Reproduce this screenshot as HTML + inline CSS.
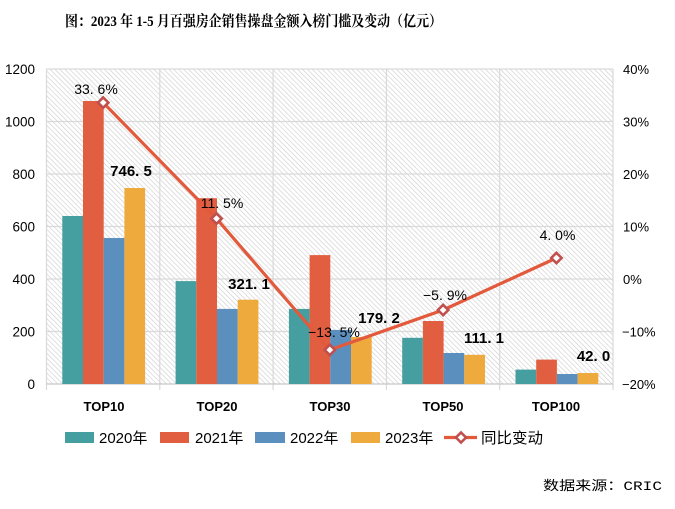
<!DOCTYPE html>
<html><head><meta charset="utf-8">
<style>
html,body{margin:0;padding:0;background:#fff;}
svg{display:block;}
text{font-family:"Liberation Sans","Noto Sans CJK SC",sans-serif;fill:#000;}
</style></head>
<body>
<svg width="675" height="509" viewBox="0 0 675 509" xmlns="http://www.w3.org/2000/svg">
<defs>
<pattern id="hatch" width="3.5" height="3.5" patternUnits="userSpaceOnUse" patternTransform="rotate(-45)">
<rect width="3.5" height="3.5" fill="#ffffff"/>
<line x1="0" y1="0" x2="0" y2="3.5" stroke="#cccccc" stroke-width="1.2"/>
</pattern>
</defs>
<rect width="675" height="509" fill="#fff"/>
<text x="65" y="26" font-size="15" font-weight="bold" textLength="377" lengthAdjust="spacingAndGlyphs" style="font-family:'Liberation Serif','Noto Serif CJK SC',serif">图：2023 年 1-5 月百强房企销售操盘金额入榜门槛及变动（亿元）</text>

<rect x="46.5" y="69" width="566.5" height="315" fill="url(#hatch)"/>
<g stroke="#d9d9d9" stroke-width="1.2">
<line x1="46.5" y1="69" x2="613" y2="69"/>
<line x1="46.5" y1="121.5" x2="613" y2="121.5"/>
<line x1="46.5" y1="174" x2="613" y2="174"/>
<line x1="46.5" y1="226.5" x2="613" y2="226.5"/>
<line x1="46.5" y1="279" x2="613" y2="279"/>
<line x1="46.5" y1="331.5" x2="613" y2="331.5"/>
<line x1="46.5" y1="69" x2="46.5" y2="390"/>
<line x1="159.8" y1="69" x2="159.8" y2="390"/>
<line x1="273.1" y1="69" x2="273.1" y2="390"/>
<line x1="386.4" y1="69" x2="386.4" y2="390"/>
<line x1="499.7" y1="69" x2="499.7" y2="390"/>
<line x1="613" y1="69" x2="613" y2="390"/>
</g>
<line x1="46.5" y1="384" x2="613" y2="384" stroke="#c8c8c8" stroke-width="1.3"/>

<!-- bars -->
<g>
<rect x="62.3" y="216" width="20.7" height="168" fill="#459FA1"/>
<rect x="83" y="101" width="20.7" height="283" fill="#E25E40"/>
<rect x="103.7" y="238" width="20.7" height="146" fill="#5B8FBD"/>
<rect x="124.4" y="188" width="20.7" height="196" fill="#EEAA3D"/>

<rect x="175.6" y="281.1" width="20.7" height="102.9" fill="#459FA1"/>
<rect x="196.3" y="198.2" width="20.7" height="185.8" fill="#E25E40"/>
<rect x="217" y="308.9" width="20.7" height="75.1" fill="#5B8FBD"/>
<rect x="237.7" y="299.7" width="20.7" height="84.3" fill="#EEAA3D"/>

<rect x="288.9" y="308.9" width="20.7" height="75.1" fill="#459FA1"/>
<rect x="309.6" y="255.1" width="20.7" height="128.9" fill="#E25E40"/>
<rect x="330.3" y="329.9" width="20.7" height="54.1" fill="#5B8FBD"/>
<rect x="351" y="337" width="20.7" height="47" fill="#EEAA3D"/>

<rect x="402.2" y="337.8" width="20.7" height="46.2" fill="#459FA1"/>
<rect x="422.9" y="321" width="20.7" height="63" fill="#E25E40"/>
<rect x="443.6" y="353" width="20.7" height="31" fill="#5B8FBD"/>
<rect x="464.3" y="354.8" width="20.7" height="29.2" fill="#EEAA3D"/>

<rect x="515.5" y="369.6" width="20.7" height="14.4" fill="#459FA1"/>
<rect x="536.2" y="359.6" width="20.7" height="24.4" fill="#E25E40"/>
<rect x="556.9" y="374" width="20.7" height="10" fill="#5B8FBD"/>
<rect x="577.6" y="373" width="20.7" height="11" fill="#EEAA3D"/>
</g>

<!-- line -->
<polyline points="103.2,102.6 216.5,218.6 329.8,349.9 443.1,310 556.4,258" fill="none" stroke="#E3593C" stroke-width="3.2" stroke-linejoin="round"/>
<g fill="#fff" stroke="#C0504D" stroke-width="2.6">
<polygon points="103.2,97.4 108.4,102.6 103.2,107.8 98,102.6"/>
<polygon points="216.5,213.4 221.7,218.6 216.5,223.8 211.3,218.6"/>
<polygon points="329.8,344.7 335,349.9 329.8,355.1 324.6,349.9"/>
<polygon points="443.1,304.8 448.3,310 443.1,315.2 437.9,310"/>
<polygon points="556.4,252.8 561.6,258 556.4,263.2 551.2,258"/>
</g>

<!-- percent labels -->
<g font-size="14" text-anchor="middle">
<text x="96" y="94">33. 6%</text>
<text x="222" y="208">11. 5%</text>
<text x="334" y="337">−13. 5%</text>
<text x="445" y="300">−5. 9%</text>
<text x="557.5" y="240">4. 0%</text>
</g>
<!-- bold value labels -->
<g font-size="15" font-weight="bold" text-anchor="middle">
<text x="131" y="176">746. 5</text>
<text x="249" y="289">321. 1</text>
<text x="379" y="323">179. 2</text>
<text x="484" y="343">111. 1</text>
<text x="593.5" y="361">42. 0</text>
</g>

<!-- left axis -->
<g font-size="13.5" text-anchor="end">
<text x="35" y="74">1200</text>
<text x="35" y="126.5">1000</text>
<text x="35" y="179">800</text>
<text x="35" y="231.5">600</text>
<text x="35" y="284">400</text>
<text x="35" y="336.5">200</text>
<text x="35" y="389">0</text>
</g>
<!-- right axis -->
<g font-size="13" text-anchor="start">
<text x="623" y="74">40%</text>
<text x="623" y="126.5">30%</text>
<text x="623" y="179">20%</text>
<text x="623" y="231.5">10%</text>
<text x="623" y="284">0%</text>
<text x="622" y="336.5">−10%</text>
<text x="622" y="389">−20%</text>
</g>
<!-- x labels -->
<g font-size="13" font-weight="bold" text-anchor="middle">
<text x="104" y="411">TOP10</text>
<text x="217" y="411">TOP20</text>
<text x="330" y="411">TOP30</text>
<text x="443" y="411">TOP50</text>
<text x="556" y="411">TOP100</text>
</g>

<!-- legend -->
<rect x="65" y="432" width="29" height="11" fill="#459FA1"/>
<rect x="160" y="432" width="29" height="11" fill="#E25E40"/>
<rect x="255" y="432" width="30" height="11" fill="#5B8FBD"/>
<rect x="351" y="432" width="29" height="11" fill="#EEAA3D"/>
<line x1="444" y1="437.5" x2="477" y2="437.5" stroke="#E3593C" stroke-width="3.2"/>
<polygon points="461,432.5 466,437.5 461,442.5 456,437.5" fill="#fff" stroke="#C0504D" stroke-width="2.6"/>
<g font-size="15">
<text x="99" y="443">2020年</text>
<text x="195" y="443">2021年</text>
<text x="290" y="443">2022年</text>
<text x="385" y="443">2023年</text>
<text x="481" y="443" textLength="62" lengthAdjust="spacingAndGlyphs">同比变动</text>
</g>

<text x="543" y="490" font-size="13" textLength="119" lengthAdjust="spacingAndGlyphs" style="font-family:'Liberation Mono','Noto Sans CJK SC',monospace">数据来源：CRIC</text>
</svg>
</body></html>
